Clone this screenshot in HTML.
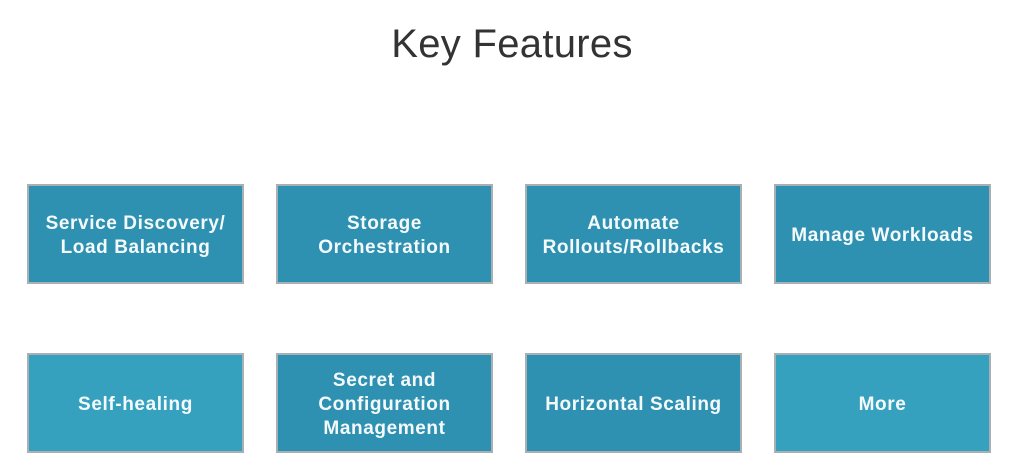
<!DOCTYPE html>
<html><head><style>
body{margin:0;width:1024px;height:470px;background:#fff;position:relative;overflow:hidden;font-family:"Liberation Sans",sans-serif}
.t{position:absolute;left:0;width:1024px;top:22px;text-align:center;font-size:40px;color:#333;letter-spacing:0.3px}
.b{position:absolute;width:213px;height:93px;padding-top:3px;border:2px solid #a8b0b4;color:#f4fafc;font-size:19px;letter-spacing:0.6px;font-weight:bold;display:flex;align-items:center;justify-content:center;text-align:center;line-height:24px;box-sizing:content-box;white-space:nowrap}
.r1{top:184px;background:#2f91b1}
.r2{top:353px;background:#36a0bf}
</style></head><body>
<div class="t">Key Features</div>
<div class="b r1" style="left:27px">Service Discovery/<br>Load Balancing</div>
<div class="b r1" style="left:276px">Storage<br>Orchestration</div>
<div class="b r1" style="left:525px">Automate<br>Rollouts/Rollbacks</div>
<div class="b r1" style="left:774px">Manage Workloads</div>
<div class="b r2" style="left:27px">Self-healing</div>
<div class="b r2" style="left:276px;background:#2f91b1">Secret and<br>Configuration<br>Management</div>
<div class="b r2" style="left:525px;background:#2f91b1">Horizontal Scaling</div>
<div class="b r2" style="left:774px">More</div>
</body></html>
